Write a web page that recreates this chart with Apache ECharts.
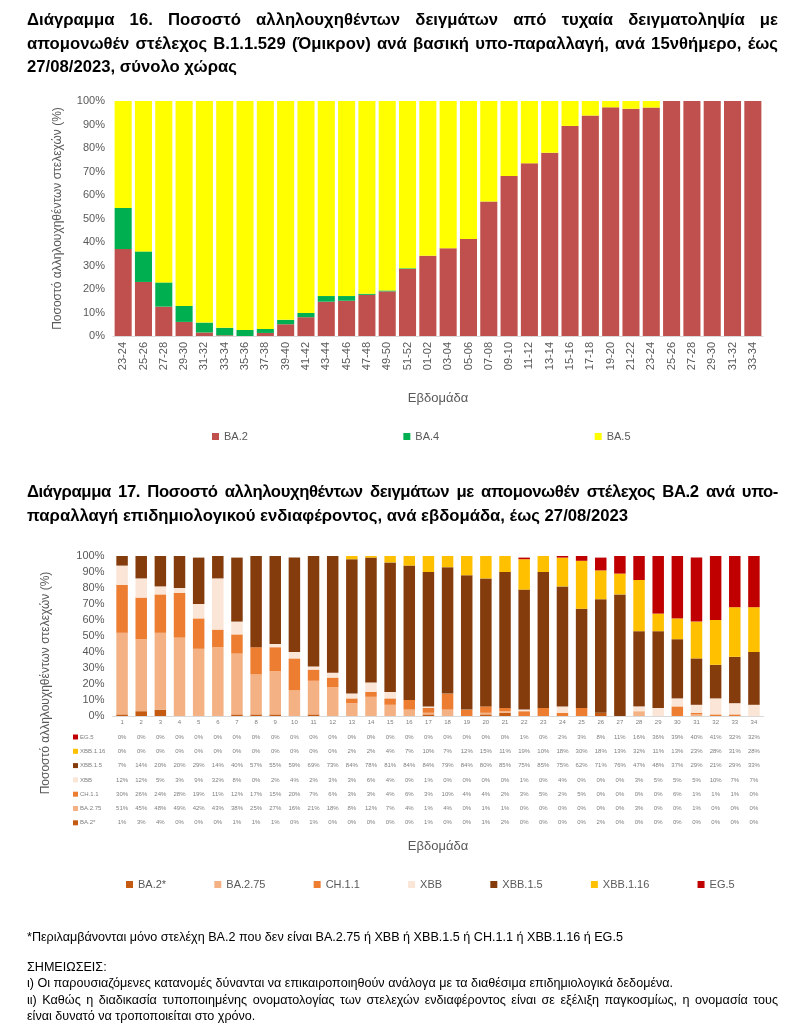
<!DOCTYPE html>
<html><head><meta charset="utf-8">
<script src="https://cdn.jsdelivr.net/npm/echarts@6.0.0/dist/echarts.min.js"></script>
<style>
html,body{margin:0;padding:0;background:#fff;}
#chart{position:absolute;left:0;top:0;width:800px;height:1035px;}
.t{position:absolute;left:27px;width:751px;font-family:"Liberation Sans",Arial,sans-serif;color:#000;}
.title{font-weight:bold;font-size:16.7px;}
.j{text-align:justify;text-align-last:justify;}
.tight{letter-spacing:-0.4px;}
.note{font-size:12.6px;}
</style></head>
<body>
<div id="chart"></div>
<div class="t title" style="top:8px;line-height:23.5px">
<div class="j">Διάγραμμα 16. Ποσοστό αλληλουχηθέντων δειγμάτων από τυχαία δειγματοληψία με</div>
<div class="j">απομονωθέν στέλεχος B.1.1.529 (Όμικρον) ανά βασική υπο-παραλλαγή, ανά 15νθήμερο, έως</div>
<div>27/08/2023, σύνολο χώρας</div>
</div>
<div class="t title" style="top:480px;line-height:24px">
<div class="j tight">Διάγραμμα 17. Ποσοστό αλληλουχηθέντων δειγμάτων με απομονωθέν στέλεχος BA.2 ανά υπο-</div>
<div>παραλλαγή επιδημιολογικού ενδιαφέροντος, ανά εβδομάδα, έως 27/08/2023</div>
</div>
<div class="t note" style="top:929px;line-height:16px">*Περιλαμβάνονται μόνο στελέχη BA.2 που δεν είναι BA.2.75 ή XBB ή XBB.1.5 ή CH.1.1 ή XBB.1.16 ή EG.5</div>
<div class="t note" style="top:959px;line-height:16.3px">
<div>ΣΗΜΕΙΩΣΕΙΣ:</div>
<div>ι) Οι παρουσιαζόμενες κατανομές δύνανται να επικαιροποιηθούν ανάλογα με τα διαθέσιμα επιδημιολογικά δεδομένα.</div>
<div class="j">ιι) Καθώς η διαδικασία τυποποιημένης ονοματολογίας των στελεχών ενδιαφέροντος είναι σε εξέλιξη παγκοσμίως, η ονομασία τους</div>
<div>είναι δυνατό να τροποποιείται στο χρόνο.</div>
</div>
<script>
// ---- Diagram 16 data ----
const periods16 = ['23-24','25-26','27-28','29-30','31-32','33-34','35-36','37-38','39-40','41-42','43-44','45-46','47-48','49-50','51-52','01-02','03-04','05-06','07-08','09-10','11-12','13-14','15-16','17-18','19-20','21-22','23-24','25-26','27-28','29-30','31-32','33-34'];
const ba2 = [37,23,12.5,6,1.5,0.3,0,1.3,5,8,14.6,15,17.5,19,28.5,34.2,37.3,41.3,57.2,68.1,73.5,78,89.4,93.8,97.3,96.7,97.2,100,100,100,100,100];
const ba4 = [17.5,13,10.3,6.8,4.2,3.2,2.6,1.7,1.9,1.8,2.4,2,0.5,0.4,0.3,0,0,0,0,0,0,0,0,0,0,0,0,0,0,0,0,0];
const ba5 = [45.5,64,77.2,87.2,94.3,96.5,97.4,97,93.1,90.2,83,83,82,80.6,71.2,65.8,62.7,58.7,42.8,31.9,26.5,22,10.6,6.2,2.7,3.3,2.8,0,0,0,0,0];

// ---- Diagram 17 data ----
const weeks17 = ['1','2','3','4','5','6','7','8','9','10','11','12','13','14','15','16','17','18','19','20','21','22','23','24','25','26','27','28','29','30','31','32','33','34'];
const ba2star = [1,3,4,0,0,0,1,1,1,0,1,0,0,0,0,0,1,0,0,1,2,0,0,0,0,2,0,0,0,0,0,0,0,0];
const ba275  = [51,45,48,49,42,43,38,25,27,16,21,18,8,12,7,4,1,4,0,1,1,0,0,0,0,0,0,3,0,0,1,0,0,0];
const ch11   = [30,26,24,28,19,11,12,17,15,20,7,6,3,3,4,6,3,10,4,4,2,3,5,2,5,0,0,0,0,6,1,1,1,0];
const xbb    = [12,12,5,3,9,32,8,0,2,4,2,3,3,6,4,0,1,0,0,0,0,1,0,4,0,0,0,3,5,5,5,10,7,7];
const xbb15  = [7,14,20,20,29,14,40,57,55,59,69,73,84,78,81,84,84,79,84,80,85,75,85,75,62,71,76,47,48,37,29,21,29,33];
const xbb116 = [0,0,0,0,0,0,0,0,0,0,0,0,2,2,4,7,10,7,12,15,11,19,10,18,30,18,13,32,11,13,23,28,31,28];
const eg5    = [0,0,0,0,0,0,0,0,0,0,0,0,0,0,0,0,0,0,0,0,0,1,0,2,3,8,11,16,36,39,40,41,32,32];

const FONT = '"Liberation Sans", Arial, sans-serif';
const GRAY = '#595959';

const chart = echarts.init(document.getElementById('chart'), null, {renderer:'canvas'});

const g2Top = 556, g2Bottom = 716;
const rows = [
  {name:'EG.5', data:eg5, color:'#C00000'},
  {name:'XBB.1.16', data:xbb116, color:'#FFC000'},
  {name:'XBB.1.5', data:xbb15, color:'#843C0C'},
  {name:'XBB', data:xbb, color:'#FBE5D6'},
  {name:'CH.1.1', data:ch11, color:'#ED7D31'},
  {name:'BA.2.75', data:ba275, color:'#F4B183'},
  {name:'BA.2*', data:ba2star, color:'#C55A11'}
];
const rowOffsets = [21, 35.3, 49.6, 63.9, 78.2, 92.5, 106.8];

const xAxes = [
  {
    type:'category', gridIndex:0, data:periods16,
    axisLine:{lineStyle:{color:'#D9D9D9'}}, axisTick:{show:false},
    axisLabel:{rotate:90, fontSize:11, color:GRAY, fontFamily:FONT, margin:6, interval:0},
    name:'Εβδομάδα', nameLocation:'middle', nameGap:56,
    nameTextStyle:{fontSize:13, color:GRAY, fontFamily:FONT}
  },
  {
    type:'category', gridIndex:1, data:weeks17,
    axisLine:{lineStyle:{color:'#D9D9D9'}}, axisTick:{show:false},
    axisLabel:{fontSize:6, color:'#7F7F7F', fontFamily:FONT, margin:3, interval:0},
    name:'Εβδομάδα', nameLocation:'middle', nameGap:124,
    nameTextStyle:{fontSize:13, color:GRAY, fontFamily:FONT}
  }
];
rows.forEach((r,i)=>{
  xAxes.push({
    type:'category', gridIndex:1, position:'bottom', offset:rowOffsets[i],
    data:r.data.map(v=>v+'%'),
    axisLine:{show:false}, axisTick:{show:false},
    axisLabel:{fontSize:6, color:'#7F7F7F', fontFamily:FONT, margin:0, verticalAlign:'middle', interval:0}
  });
});

const graphics = [
  {type:'text', x:46, y:683, rotation:Math.PI/2,
   style:{text:'Ποσοστό αλληλουχηθέντων στελεχών (%)', fill:GRAY, fontSize:12, fontFamily:FONT, align:'center', verticalAlign:'middle'}}
];
rows.forEach((r,i)=>{
  const y = g2Bottom + rowOffsets[i];
  graphics.push({type:'rect', shape:{x:73, y:y-2.5, width:5, height:5}, style:{fill:r.color}});
  graphics.push({type:'text', x:80, y:y, style:{text:r.name, fill:'#7F7F7F', fontSize:6, fontFamily:FONT, align:'left', verticalAlign:'middle'}});
});

function bar16(name, data, color){
  return {name, type:'bar', stack:'s16', xAxisIndex:0, yAxisIndex:0, data, barWidth:'84%', itemStyle:{color}};
}
function bar17(name, data, color){
  return {name, type:'bar', stack:'s17', xAxisIndex:1, yAxisIndex:1, data, barWidth:'60%', itemStyle:{color}};
}

chart.setOption({
  animation:false,
  textStyle:{fontFamily:FONT},
  grid:[
    {left:113, right:37, top:101, height:235},
    {left:112.5, right:36.5, top:g2Top, height:g2Bottom-g2Top}
  ],
  xAxis:xAxes,
  yAxis:[
    {type:'value', gridIndex:0, min:0, max:100, interval:10,
     axisLabel:{formatter:'{value}%', fontSize:11, color:GRAY, fontFamily:FONT},
     splitLine:{show:false}, axisLine:{show:false}, axisTick:{show:false},
     name:'Ποσοστό αλληλουχηθέντων στελεχών (%)', nameLocation:'middle', nameGap:49, nameRotate:90,
     nameTextStyle:{fontSize:12, color:GRAY, fontFamily:FONT}},
    {type:'value', gridIndex:1, min:0, max:100, interval:10,
     axisLabel:{formatter:'{value}%', fontSize:11, color:GRAY, fontFamily:FONT},
     splitLine:{show:false}, axisLine:{show:false}, axisTick:{show:false}}
  ],
  legend:[
    {data:['BA.2','BA.4','BA.5'], left:207, top:426, itemGap:155.5, itemWidth:7, itemHeight:7, icon:'rect',
     textStyle:{fontSize:11, color:GRAY, fontFamily:FONT}},
    {data:['BA.2*','BA.2.75','CH.1.1','XBB','XBB.1.5','XBB.1.16','EG.5'], left:121, top:874, itemGap:48.2, itemWidth:7, itemHeight:7, icon:'rect',
     textStyle:{fontSize:11, color:GRAY, fontFamily:FONT}}
  ],
  graphic:graphics,
  series:[
    bar16('BA.2', ba2, '#C0504D'),
    bar16('BA.4', ba4, '#00B050'),
    bar16('BA.5', ba5, '#FFFF00'),
    bar17('BA.2*', ba2star, '#C55A11'),
    bar17('BA.2.75', ba275, '#F4B183'),
    bar17('CH.1.1', ch11, '#ED7D31'),
    bar17('XBB', xbb, '#FBE5D6'),
    bar17('XBB.1.5', xbb15, '#843C0C'),
    bar17('XBB.1.16', xbb116, '#FFC000'),
    bar17('EG.5', eg5, '#C00000')
  ]
});
</script>
</body></html>
